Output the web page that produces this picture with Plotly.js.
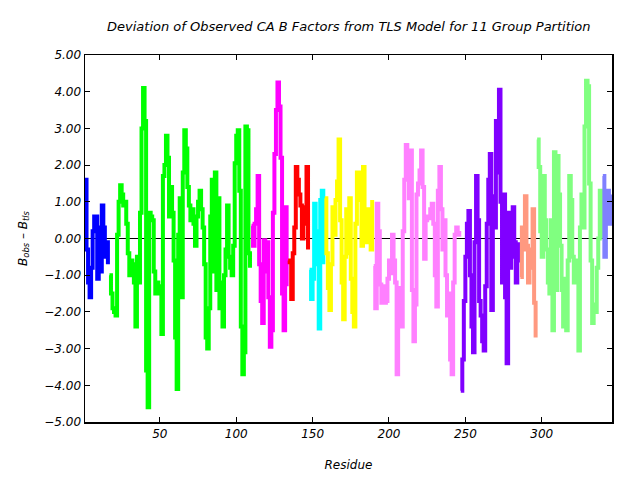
<!DOCTYPE html>
<html>
<head>
<meta charset="utf-8">
<script src="https://cdn.plot.ly/plotly-3.0.1.min.js"></script>
<style>html,body{margin:0;padding:0;background:#fff;}#chart{width:640px;height:480px;}</style>
</head>
<body>
<div id="chart"></div>
<script>
// Group start residues and colours
const groupStarts = [1, 17, 110, 134, 148, 158, 190, 247, 286, 297, 340];
const groupColors = ['#0000ff', '#00ff00', '#ff00ff', '#ff0000', '#00ffff', '#ffff00', '#ff80ff', '#8000ff', '#ff9980', '#80ff80', '#8080ff'];

// Deviation values per group
const g1 = [1.6, -0.3, -1.2, -1.6, -0.8, 0.2, 0.6, 0.6, -1.1, 0.3, -0.9, 0.9, 0.3, -0.5, -0.1, -0.7];
const g2 = [-1.0, -1.5, -1.9, -2.0, -2.1, 0.1, 1.0, 1.45, 1.2, 0.9, 1.0, 0.4, -0.4, -1.0, -0.6, -0.7, -1.2, -2.4, -0.5, -1.2,
            0.7, 3.0, 4.1, 3.2, -3.6, -4.6, 0.7, 0.6, 0.5, -0.9, -1.5, -1.2, -1.5, -1.3, -2.6, 1.7, 2.0, 2.8, 2.2, 0.6,
            1.4, 0.7, -0.6, -2.7, -4.1, 0.1, 1.1, -1.6, 1.8, 2.95, 2.45, 1.4, 0.9, 0.5, 0.8, 0.4, -0.2, 0.6, 1.0, 1.3,
            0.8, 0.3, -0.7, -2.7, -3.0, -1.9, 0.6, 1.6, -0.9, 1.8, -1.4, 1.1, -1.9, -1.2, -2.4, -1.0, -0.3, 0.9, -0.5, -0.8,
            -1.0, -0.2, 2.05, 2.8, 2.95, 1.3, -2.4, -3.7, -3.1, 3.05, 2.95, -0.4, -0.8];
const g3 = [0.35, -0.2, 0.4, 0.8, 1.7, -0.7, -1.7, -2.3, -0.05, -0.9, -0.1, -1.6, -2.95, -2.5, 0.7, 2.3, 3.5, 4.25, 3.6, 2.2, -1.5, -2.5, 0.85, -1.3];
const g4 = [-0.6, -0.65, -1.65, -0.4, 0.3, 1.95, 1.6, 1.2, 0.9, 0.0, 0.85, 0.4, 1.95, -0.3];
const g5 = [-0.85, -1.65, -1.1, 0.95, 0.2, -0.7, -2.45, 1.05, 1.3, -0.7];
const g6 = [1.1, -0.4, -1.35, -1.95, -0.7, 0.85, 0.1, 1.05, 1.55, 2.7, 0.5, -1.2, -2.2, -0.5, 0.8, -0.4, 1.1, -1.1, -2.0, -2.4,
            0.4, 1.8, 1.05, 1.8, -0.2, 1.95, 0.2, -0.1, 0.8, 0.7, -0.3, 1.05];
const g7 = [-0.75, -1.9, 0.95, 0.2, -1.25, -1.75, -1.3, -1.75, -1.7, -1.1, -0.6, -0.95, 0.1, -0.6, -1.2, -3.7, -1.35, -2.2, -2.4, 0.2,
            1.6, 2.55, 2.3, 1.1, 2.4, -1.4, -2.8, -1.8, 1.2, 1.5, 1.85, 2.4, 1.4, -0.55, 0.5, 0.6, 0.55, 0.8, 0.95, 0.4,
            -1.0, -1.85, 1.3, 1.95, 0.8, -0.3, 0.5, -1.0, -2.1, -1.5, -3.3, -3.7, -1.2, 0.1, 0.3, 0.15, 0.05];
const g8 = [-4.15, -3.3, -1.7, -0.5, 0.4, 0.75, -1.0, -2.4, -3.1, -0.1, 1.7, 0.5, -1.7, -2.1, -2.8, -3.05, -1.3, 0.4, 1.6, 2.3,
            -1.95, 1.15, 0.3, 3.2, 1.8, 4.05, 1.0, -1.2, 1.2, -1.6, -3.4, 0.7, -0.8, -0.5, 0.85, -0.1, -1.2, -0.6, -0.1];
const g9 = [-1.05, 0.3, -0.3, 1.15, -0.2, -1.2, -0.3, -0.8, 0.8, -1.75, -2.7];
const g10 = [2.7, 1.95, 0.2, -0.5, 1.7, 0.5, -0.3, -1.2, -1.5, 0.5, -2.5, 2.35, -1.4, 2.25, 1.2, -0.2, -1.4, -2.4, -1.1, -2.5,
             -0.6, 1.7, 1.05, -0.5, -1.2, -0.6, -0.7, -3.05, 0.3, 1.2, 0.3, 3.05, 4.3, 4.15, 1.5, -0.6, -2.3, -1.8, -2.0, -0.8,
             0.0, 1.3, 0.0];
const g11 = [1.7, -0.5, 0.9, 1.3, 0.4, 1.2];

const groups = [g1, g2, g3, g4, g5, g6, g7, g8, g9, g10, g11];
const xTicks = [50, 100, 150, 200, 250, 300];
const yTicks = [-5, -4, -3, -2, -1, 0, 1, 2, 3, 4, 5];

const traces = groups.map((vals, gi) => ({
  type: 'scatter',
  mode: 'lines',
  x: vals.map((v, i) => groupStarts[gi] + i),
  y: vals,
  line: {color: groupColors[gi], width: 4, shape: 'hv'},
  hoverinfo: 'skip',
  showlegend: false
}));

const font = {family: 'DejaVu Sans, sans-serif', size: 12, color: '#000', style: 'italic'};

const layout = {
  width: 640, height: 480,
  margin: {l: 85, r: 28, t: 55, b: 58},
  paper_bgcolor: '#fff', plot_bgcolor: '#fff',
  font: font,
  showlegend: false,
  title: {
    text: 'Deviation of Observed CA B Factors from TLS Model for 11 Group Partition',
    font: {family: 'DejaVu Sans, sans-serif', size: 13, color: '#000', style: 'italic'},
    x: 0.545, xanchor: 'center', y: 0.944, yanchor: 'middle'
  },
  xaxis: {
    range: [1, 346],
    tickvals: xTicks,
    ticktext: xTicks.map(String),
    ticks: 'inside', ticklen: 5, tickwidth: 1, tickcolor: '#000',
    showline: true, linecolor: '#000', linewidth: 1.5, mirror: 'ticks',
    showgrid: false, zeroline: false,
    tickfont: font,
    title: {text: 'Residue', font: font, standoff: 20}
  },
  yaxis: {
    range: [-5, 5],
    tickvals: yTicks,
    tickformat: '.2f',
    ticks: 'inside', ticklen: 5, tickwidth: 1, tickcolor: '#000',
    showline: true, linecolor: '#000', linewidth: 1.5, mirror: 'ticks',
    showgrid: false,
    zeroline: true, zerolinecolor: '#000', zerolinewidth: 1.5,
    tickfont: font,
    title: {text: 'B<sub>obs</sub> – B<sub>tls</sub>', font: font, standoff: 14}
  }
};

Plotly.newPlot('chart', traces, layout, {displayModeBar: false, staticPlot: true});
</script>
</body>
</html>
